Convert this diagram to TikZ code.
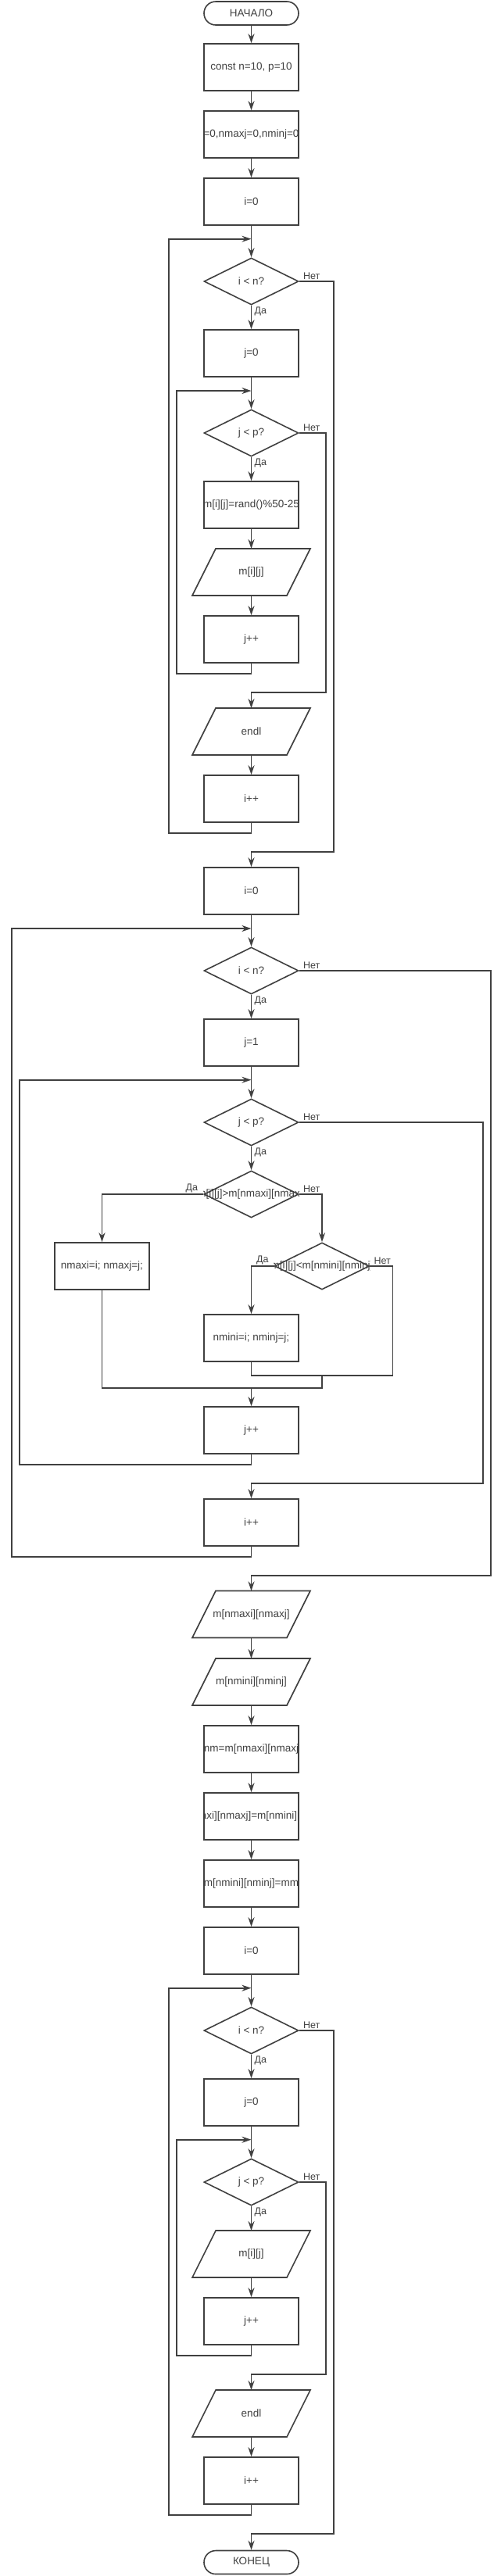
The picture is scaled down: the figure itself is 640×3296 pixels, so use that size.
\documentclass[tikz,border=0pt]{standalone}
\usepackage{fontspec}
\setmainfont{Liberation Sans}
\usetikzlibrary{arrows.meta,shapes.geometric}
\definecolor{ln}{HTML}{404040}
\newcommand\cliptext[3]{\begin{scope}\clip (#1.west|-#1.north) rectangle (#1.east|-#1.south);\node[txt] (#2) at (#1.center) {#3};\end{scope}}
\newcommand\paraframe[1]{\draw[line] ([xshift=-15pt]#1.south west) -- ([xshift=-15pt]#1.south east) -- ([xshift=15pt]#1.north east) -- ([xshift=15pt]#1.north west) -- cycle;}
\begin{document}
\begin{tikzpicture}[x=1pt,y=-1pt,
  line/.style={draw=ln,line width=1.6pt},
  arr/.style={line,-{Stealth[length=12pt,width=8pt,inset=4pt]}},
  txt/.style={text=ln,font=\fontsize{13.5}{16}\selectfont,inner sep=0pt},
  proc/.style={line,rectangle,minimum width=121pt,minimum height=60pt,inner sep=0pt,text=ln,font=\fontsize{13.5}{16}\selectfont},
  term/.style={proc,rounded corners=15pt,minimum height=30pt},
  io/.style={rectangle,minimum width=121pt,minimum height=60pt,inner sep=0pt,outer sep=0pt,text=ln,font=\fontsize{13.5}{16}\selectfont},
  dec/.style={line,diamond,minimum width=121pt,minimum height=60pt,inner sep=0pt,text=ln,font=\fontsize{13.5}{16}\selectfont},
  lab/.style={text=ln,font=\fontsize{12.5}{14}\selectfont,inner sep=0pt}
]
\useasboundingbox (0,0) rectangle (640,3296);
\def\C{321.5}
% ---------- section 1
\node[term] (start) at (\C,17) {НАЧАЛО};
\node[proc] (b1) at (\C,86) {const n=10, p=10};
\node[proc] (b2) at (\C,172) {};
\cliptext{b2}{b2t}{=0,nmaxj=0,nminj=0}
\node[proc] (b3) at (\C,258) {i=0};
\node[dec] (d1) at (\C,360) {i < n?};
\node[proc] (b4) at (\C,452) {j=0};
\node[dec] (d2) at (\C,554) {j < p?};
\node[proc] (b5) at (\C,646) {};
\cliptext{b5}{b5t}{m[i][j]=rand()\%50-25}
\node[io] (p1) at (\C,732) {m[i][j]};
\paraframe{p1}
\node[proc] (b6) at (\C,818) {j++};
\node[io] (p2) at (\C,936) {endl};
\paraframe{p2}
\node[proc] (b7) at (\C,1022) {i++};
% ---------- section 2
\node[proc] (b8) at (\C,1140) {i=0};
\node[dec] (d3) at (\C,1242) {i < n?};
\node[proc] (b9) at (\C,1334) {j=1};
\node[dec] (d4) at (\C,1436) {j < p?};
\node[dec] (d5) at (\C,1528) {};
\cliptext{d5}{d5t}{m[i][j]>m[nmaxi][nmaxj]}
\node[proc] (b10) at (130.5,1620) {nmaxi=i; nmaxj=j;};
\node[dec] (d6) at (412,1620) {};
\cliptext{d6}{d6t}{m[i][j]<m[nmini][nminj]}
\node[proc] (b11) at (\C,1712) {nmini=i; nminj=j;};
\node[proc] (b12) at (\C,1830) {j++};
\node[proc] (b13) at (\C,1948) {i++};
% ---------- section 3
\node[io] (p3) at (\C,2065.5) {m[nmaxi][nmaxj]};
\paraframe{p3}
\node[io] (p4) at (\C,2152) {m[nmini][nminj]};
\paraframe{p4}
\node[proc] (b14) at (\C,2238) {};
\cliptext{b14}{b14t}{mm=m[nmaxi][nmaxj]}
\node[proc] (b15) at (\C,2324) {};
\cliptext{b15}{b15t}{m[nmaxi][nmaxj]=m[nmini][nminj]}
\node[proc] (b16) at (\C,2410) {};
\cliptext{b16}{b16t}{m[nmini][nminj]=mm}
\node[proc] (b17) at (\C,2496) {i=0};
\node[dec] (d7) at (\C,2598) {i < n?};
\node[proc] (b18) at (\C,2690) {j=0};
\node[dec] (d8) at (\C,2792) {j < p?};
\node[io] (p5) at (\C,2884) {m[i][j]};
\paraframe{p5}
\node[proc] (b19) at (\C,2970) {j++};
\node[io] (p6) at (\C,3088) {endl};
\paraframe{p6}
\node[proc] (b20) at (\C,3174) {i++};
\node[term] (stop) at (\C,3278.5) {КОНЕЦ};
% ---------- junctions
\coordinate (j0) at (\C,305.7);
\coordinate (j1) at (\C,500);
\coordinate (j2) at (\C,1188);
\coordinate (j3) at (\C,1381.7);
\coordinate (m1) at (412,1760);
\coordinate (m2) at (\C,1776);
\coordinate (j4) at (\C,2543.7);
\coordinate (j5) at (\C,2737.7);
% ---------- connectors section 1
\draw[arr] (start) -- (b1);
\draw[arr] (b1) -- (b2);
\draw[arr] (b2) -- (b3);
\draw[arr] (b3) -- (d1);
\draw[arr] (d1) -- (b4);
\draw[arr] (b4) -- (d2);
\draw[arr] (d2) -- (b5);
\draw[arr] (b5) -- (p1);
\draw[arr] (p1) -- (b6);
\draw[arr] (b6.south) -- (\C,861.7) -- (226,861.7) -- (226,500) -- (j1);
\draw[arr] (d2.east) -- (417,554) -- (417,885.7) -- (\C,885.7) -- (p2.north);
\draw[arr] (p2) -- (b7);
\draw[arr] (b7.south) -- (\C,1065.7) -- (216,1065.7) -- (216,305.7) -- (j0);
\draw[arr] (d1.east) -- (427,360) -- (427,1089.7) -- (\C,1089.7) -- (b8.north);
\node[lab,anchor=north west] (y1) at ([xshift=4pt,yshift=-2pt]d1.south) {Да};
\node[lab,anchor=south west] (n1) at ([xshift=5pt,yshift=2pt]d1.east) {Нет};
\node[lab,anchor=north west] (y2) at ([xshift=4pt,yshift=-2pt]d2.south) {Да};
\node[lab,anchor=south west] (n2) at ([xshift=5pt,yshift=2pt]d2.east) {Нет};
% ---------- connectors section 2
\draw[arr] (b8) -- (d3);
\draw[arr] (d3) -- (b9);
\draw[arr] (b9) -- (d4);
\draw[arr] (d4) -- (d5);
\draw[arr] (d5.west) -- (130.5,1528) -- (b10.north);
\draw[arr] (d5.east) -- (412,1528) -- (d6.north);
\draw[arr] (d6.west) -- (\C,1620) -- (b11.north);
\draw[line] (d6.east) -- (502.6,1620) -- (502.6,1760) -- (\C,1760) -- (b11.south);
\draw[line] (m1) -- (412,1776) -- (130.5,1776) -- (b10.south);
\draw[arr] (m2) -- (b12);
\draw[arr] (b12.south) -- (\C,1873.7) -- (25,1873.7) -- (25,1381.7) -- (j3);
\draw[arr] (d4.east) -- (617.8,1436) -- (617.8,1897.7) -- (\C,1897.7) -- (b13.north);
\draw[arr] (b13.south) -- (\C,1992) -- (14.8,1992) -- (14.8,1188) -- (j2);
\draw[arr] (d3.east) -- (627.7,1242) -- (627.7,2016) -- (\C,2016) -- (p3.north);
\node[lab,anchor=north west] (y3) at ([xshift=4pt,yshift=-2pt]d3.south) {Да};
\node[lab,anchor=south west] (n3) at ([xshift=5pt,yshift=2pt]d3.east) {Нет};
\node[lab,anchor=north west] (y4) at ([xshift=4pt,yshift=-2pt]d4.south) {Да};
\node[lab,anchor=south west] (n4) at ([xshift=5pt,yshift=2pt]d4.east) {Нет};
\node[lab,anchor=south east] (y5) at ([xshift=-7pt,yshift=2pt]d5.west) {Да};
\node[lab,anchor=south west] (n5) at ([xshift=5pt,yshift=2pt]d5.east) {Нет};
\node[lab,anchor=south east] (y6) at ([xshift=-7pt,yshift=2pt]d6.west) {Да};
\node[lab,anchor=south west] (n6) at ([xshift=5pt,yshift=2pt]d6.east) {Нет};
% ---------- connectors section 3
\draw[arr] (p3) -- (p4);
\draw[arr] (p4) -- (b14);
\draw[arr] (b14) -- (b15);
\draw[arr] (b15) -- (b16);
\draw[arr] (b16) -- (b17);
\draw[arr] (b17) -- (d7);
\draw[arr] (d7) -- (b18);
\draw[arr] (b18) -- (d8);
\draw[arr] (d8) -- (p5);
\draw[arr] (p5) -- (b19);
\draw[arr] (b19.south) -- (\C,3013.7) -- (226,3013.7) -- (226,2737.7) -- (j5);
\draw[arr] (d8.east) -- (417,2792) -- (417,3037.7) -- (\C,3037.7) -- (p6.north);
\draw[arr] (p6) -- (b20);
\draw[arr] (b20.south) -- (\C,3217.7) -- (216,3217.7) -- (216,2543.7) -- (j4);
\draw[arr] (d7.east) -- (427,2598) -- (427,3242) -- (\C,3242) -- (stop.north);
\node[lab,anchor=north west] (y7) at ([xshift=4pt,yshift=-2pt]d7.south) {Да};
\node[lab,anchor=south west] (n7) at ([xshift=5pt,yshift=2pt]d7.east) {Нет};
\node[lab,anchor=north west] (y8) at ([xshift=4pt,yshift=-2pt]d8.south) {Да};
\node[lab,anchor=south west] (n8) at ([xshift=5pt,yshift=2pt]d8.east) {Нет};
\end{tikzpicture}
\end{document}
